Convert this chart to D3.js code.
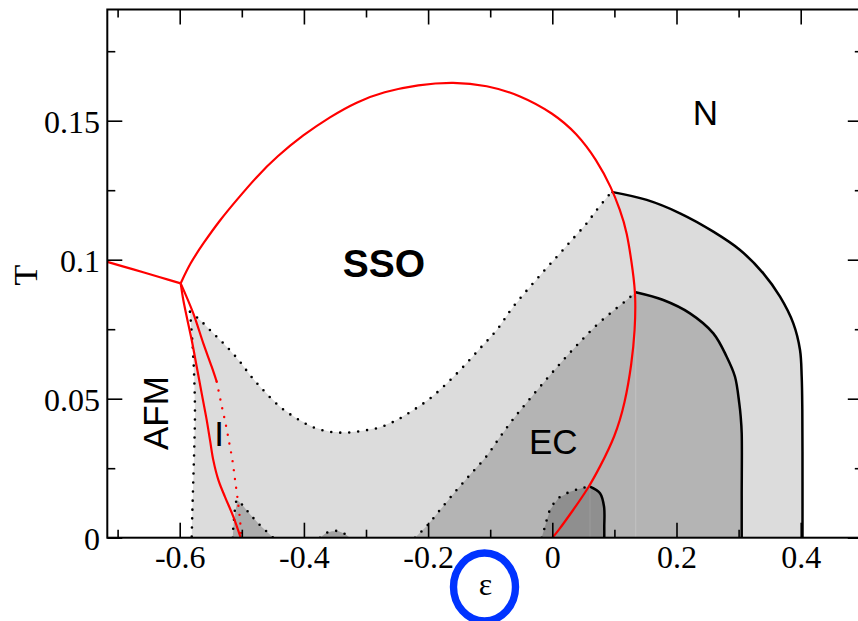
<!DOCTYPE html>
<html>
<head>
<meta charset="utf-8">
<script src="https://cdn.jsdelivr.net/npm/d3@7"></script>
<style>
body{margin:0;background:#fff;}
svg{display:block;}
</style>
</head>
<body>
<svg id="chart" width="858" height="621"></svg>
<script>
var SERIF = '"Liberation Serif","Times New Roman",serif';
var SANS = '"Liberation Sans",Arial,sans-serif';

// tick values
var xMajor = [-0.6, -0.4, -0.2, 0, 0.2, 0.4];
var xMinor = [-0.7, -0.5, -0.3, -0.1, 0.1, 0.3];
var yMajor = [0, 0.05, 0.1, 0.15];
var yMinor = [0.025, 0.075, 0.125, 0.175];
var xLabels = ["-0.6", "-0.4", "-0.2", "0", "0.2", "0.4"];
var yLabels = ["0", "0.05", "0.1", "0.15"];

// phase boundaries, [epsilon, T]
var redLeft = [[-0.7166,0.0992],[-0.6747,0.0965],[-0.6317,0.0937],[-0.5984,0.0915]];
var ssoLoop = [[-0.5984,0.0915],[-0.5834,0.0987],[-0.5620,0.1059],[-0.5351,0.1143],[-0.5082,0.1215],
  [-0.4760,0.1299],[-0.4438,0.1371],[-0.4010,0.1449],[-0.3580,0.1514],[-0.3150,0.1568],[-0.2721,0.1604],
  [-0.2158,0.1630],[-0.1594,0.1640],[-0.1056,0.1628],[-0.0520,0.1592],[0.0016,0.1527],[0.0393,0.1455],
  [0.0715,0.1359],[0.0957,0.1257],[0.1090,0.1179],[0.1198,0.1107],[0.1304,0.0951],[0.1343,0.0867],
  [0.1332,0.0747],[0.1279,0.0627],[0.1171,0.0483],[0.1010,0.0363],[0.0768,0.0255],[0.0580,0.0178],
  [0.0338,0.0100],[0.0080,0.0020],[0,0]];
var redInner = [[-0.5984,0.0915],[-0.5781,0.0807],[-0.5620,0.0699],[-0.5485,0.0615],[-0.5404,0.0561]];
var redInnerDotted = [[-0.5404,0.0561],[-0.5335,0.0486],[-0.5259,0.0408],[-0.5201,0.0340],[-0.5147,0.0273],
  [-0.5109,0.0208],[-0.5072,0.0147],[-0.5029,0.0064],[-0.5008,0]];
var redAfm = [[-0.5984,0.0915],[-0.5942,0.0855],[-0.5887,0.0795],[-0.5807,0.0711],[-0.5726,0.0615],
  [-0.5646,0.0519],[-0.5565,0.0423],[-0.5512,0.0351],[-0.5459,0.0279],[-0.5378,0.0208],[-0.5271,0.0147],
  [-0.5137,0.0076],[-0.5018,0]];

var lightLeft = [[-0.5834,0.0813],[-0.5791,0.0687],[-0.5765,0.0567],[-0.5754,0.0447],[-0.5765,0.0327],
  [-0.5781,0.0208],[-0.5797,0.0088],[-0.5807,0]];
var lightTop = [[-0.5834,0.0813],[-0.5673,0.0783],[-0.5459,0.0735],[-0.5243,0.0687],[-0.5029,0.0633],
  [-0.4868,0.0585],[-0.4680,0.0537],[-0.4385,0.0471],[-0.4116,0.0429],[-0.3849,0.0397],[-0.3580,0.0381],
  [-0.3311,0.0378],[-0.3043,0.0385],[-0.2775,0.0397],[-0.2506,0.0423],[-0.2238,0.0459],[-0.1969,0.0501],
  [-0.1700,0.0555],[-0.1433,0.0615],[-0.1164,0.0681],[-0.0895,0.0747],[-0.0628,0.0831],[-0.0145,0.0957],
  [0.0124,0.1023],[0.0338,0.1077],[0.0554,0.1131],[0.0715,0.1179],[0.0953,0.1244]];
var outerSolid = [[0.0953,0.1244],[0.1520,0.1215],[0.2056,0.1167],[0.2593,0.1101],[0.3023,0.1035],
  [0.3398,0.0951],[0.3667,0.0867],[0.3881,0.0771],[0.3989,0.0675],[0.4016,0.0579],[0.4026,0.0459],
  [0.4029,0.0200],[0.4029,0]];
var ecDotted = [[-0.2211,0],[-0.2006,0.0046],[-0.1808,0.0100],[-0.1539,0.0172],[-0.1325,0.0226],
  [-0.1056,0.0294],[-0.0843,0.0362],[-0.0628,0.0427],[-0.0391,0.0492],[-0.0090,0.0571],[0.0177,0.0639],
  [0.0446,0.0704],[0.0715,0.0765],[0.0982,0.0816],[0.1198,0.0855],[0.1343,0.0883]];
var ecSolid = [[0.1343,0.0883],[0.1787,0.0855],[0.2217,0.0807],[0.2593,0.0735],[0.2808,0.0651],
  [0.2942,0.0579],[0.3011,0.0483],[0.3034,0.0435],[0.3050,0.0376],[0.3050,0.0150],[0.3050,0]];
var darkDotted = [[-0.0171,0],[-0.0118,0.0040],[-0.0037,0.0100],[0.0097,0.0142],[0.0285,0.0165],
  [0.0473,0.0178],[0.0607,0.0184]];
var darkSolid = [[0.0607,0.0184],[0.0768,0.0160],[0.0833,0.0112],[0.0837,0.0040],[0.0837,0]];
var bumpI = [[-0.5147,0],[-0.5126,0.0064],[-0.5072,0.0136],[-0.4970,0.0112],[-0.4850,0.0080],
  [-0.4707,0.0045],[-0.4493,0]];
var bumpSSO = [[-0.3741,0],[-0.3650,0.0016],[-0.3550,0.0023],[-0.3450,0.0024],[-0.3350,0.0015],[-0.3258,0]];

var svg = d3.select("#chart");

var x = d3.scaleLinear().domain([-0.7166, 0.5]).range([107.3, 862.8]);
var y = d3.scaleLinear().domain([0, 0.19]).range([537.7, 9.5]);

svg.append("defs").append("clipPath").attr("id", "plotclip")
  .append("rect").attr("x", x(-0.7166)).attr("y", y(0.19))
  .attr("width", x(0.5) - x(-0.7166)).attr("height", y(0) - y(0.19));

var plot = svg.append("g").attr("clip-path", "url(#plotclip)");

var smooth = d3.line().x(d => x(d[0])).y(d => y(d[1])).curve(d3.curveCatmullRom.alpha(0.5));
var basis = d3.line().x(d => x(d[0])).y(d => y(d[1])).curve(d3.curveBasis);
var poly = d3.line().x(d => x(d[0])).y(d => y(d[1]));

function fillArea(pts, col){
  plot.append("path").attr("d", poly(pts) + "Z").attr("fill", col).attr("stroke", "none");
}

function drawLine(pts, col, w, dotted, gen){
  let p = plot.append("path").attr("d", (gen || smooth)(pts))
    .attr("fill", "none").attr("stroke", col).attr("stroke-width", w);
  if (dotted){
    p.attr("stroke-dasharray", "0,9").attr("stroke-linecap", "round");
  }
  return p;
}

// shaded regions
fillArea(lightLeft.slice().reverse().concat(lightTop.slice(1), outerSolid.slice(1)), "#dcdcdc");
fillArea(ecDotted.concat(ecSolid.slice(1)), "#b4b4b4");
fillArea(darkDotted.concat(darkSolid.slice(1)), "#8f8f8f");
fillArea(bumpI, "#acacac");
fillArea(bumpSSO, "#a2a2a2");

// faint seams in the shading
plot.append("line").attr("x1", x(0.1343)).attr("x2", x(0.1343)).attr("y1", y(0.0883)).attr("y2", y(0))
  .attr("stroke", "#c2c2c2").attr("stroke-width", 1);
plot.append("line").attr("x1", x(0.0607)).attr("x2", x(0.0607)).attr("y1", y(0.0184)).attr("y2", y(0))
  .attr("stroke", "#9c9c9c").attr("stroke-width", 1);

// dotted boundaries
[lightLeft, lightTop, ecDotted, darkDotted, bumpI, bumpSSO].forEach(function(pts){
  drawLine(pts, "#000", 2.6, true);
});

// solid boundaries
drawLine(outerSolid, "#000", 2.5, false);
drawLine(ecSolid, "#000", 2.5, false);
drawLine(darkSolid, "#000", 2.5, false);

// red lines
drawLine(redLeft, "#ff0000", 2.2, false);
drawLine(ssoLoop, "#ff0000", 2.2, false, basis);
drawLine(redInner, "#ff0000", 2.2, false);
drawLine(redAfm, "#ff0000", 2.2, false);
drawLine(redInnerDotted, "#ff0000", 2.4, true);

// frame
svg.append("rect").attr("x", x(-0.7166)).attr("y", y(0.19))
  .attr("width", x(0.5) - x(-0.7166)).attr("height", y(0) - y(0.19))
  .attr("fill", "none").attr("stroke", "#000").attr("stroke-width", 2);

function tickAxis(axis, tr){
  let g = svg.append("g").attr("transform", tr).call(axis);
  g.select(".domain").remove();
  g.selectAll(".tick line").attr("stroke", "#000").attr("stroke-width", 1.6);
  return g;
}

var fmtX = d => xLabels[xMajor.indexOf(d)];
var fmtY = d => yLabels[yMajor.indexOf(d)];

var gx = tickAxis(d3.axisBottom(x).tickValues(xMajor).tickSize(-15).tickPadding(7.6).tickFormat(fmtX),
  "translate(0," + y(0) + ")");
tickAxis(d3.axisBottom(x).tickValues(xMinor).tickSize(-8).tickFormat(""), "translate(0," + y(0) + ")");
tickAxis(d3.axisTop(x).tickValues(xMajor).tickSize(-15).tickFormat(""), "translate(0," + y(0.19) + ")");
tickAxis(d3.axisTop(x).tickValues(xMinor).tickSize(-8).tickFormat(""), "translate(0," + y(0.19) + ")");

var gy = tickAxis(d3.axisLeft(y).tickValues(yMajor).tickSize(-15).tickPadding(7.3).tickFormat(fmtY),
  "translate(" + x(-0.7166) + ",0)");
tickAxis(d3.axisLeft(y).tickValues(yMinor).tickSize(-8).tickFormat(""), "translate(" + x(-0.7166) + ",0)");
tickAxis(d3.axisRight(y).tickValues(yMajor).tickSize(-15).tickFormat(""), "translate(" + x(0.5) + ",0)");
tickAxis(d3.axisRight(y).tickValues(yMinor).tickSize(-8).tickFormat(""), "translate(" + x(0.5) + ",0)");

[gx, gy].forEach(function(g){
  g.attr("font-family", null).attr("font-size", null);
  g.selectAll("text").style("font-family", SERIF).style("font-size", "32px").attr("fill", "#000");
});
gy.selectAll("text").attr("dy", "0.36em");

// axis titles
svg.append("text").attr("transform", "translate(37,275) rotate(-90)")
  .attr("text-anchor", "middle").style("font-family", SERIF).style("font-size", "34px").text("T");
svg.append("text").attr("x", 485.5).attr("y", 595)
  .attr("text-anchor", "middle").style("font-family", SERIF).style("font-size", "32px").text("ε");
svg.append("ellipse").attr("cx", 484.5).attr("cy", 587).attr("rx", 31).attr("ry", 34)
  .attr("fill", "none").attr("stroke", "#0033ff").attr("stroke-width", 7.4);

// phase labels
function label(txt, ex, tt, size, bold){
  return svg.append("text").attr("x", x(ex)).attr("y", y(tt))
    .attr("text-anchor", "middle").style("font-family", SANS).style("font-size", size + "px")
    .style("font-weight", bold ? "bold" : "normal").text(txt);
}
label("SSO", -0.271, 0.0938, 39, true);
label("N", 0.2467, 0.1485, 35, false);
label("EC", 0.0016, 0.0301, 35, false);
label("I", -0.5364, 0.033, 35, false);
svg.append("text")
  .attr("transform", "translate(" + x(-0.619) + "," + y(0.0448) + ") rotate(-90)")
  .attr("text-anchor", "middle").style("font-family", SANS).style("font-size", "35px").text("AFM");
</script>
</body>
</html>
